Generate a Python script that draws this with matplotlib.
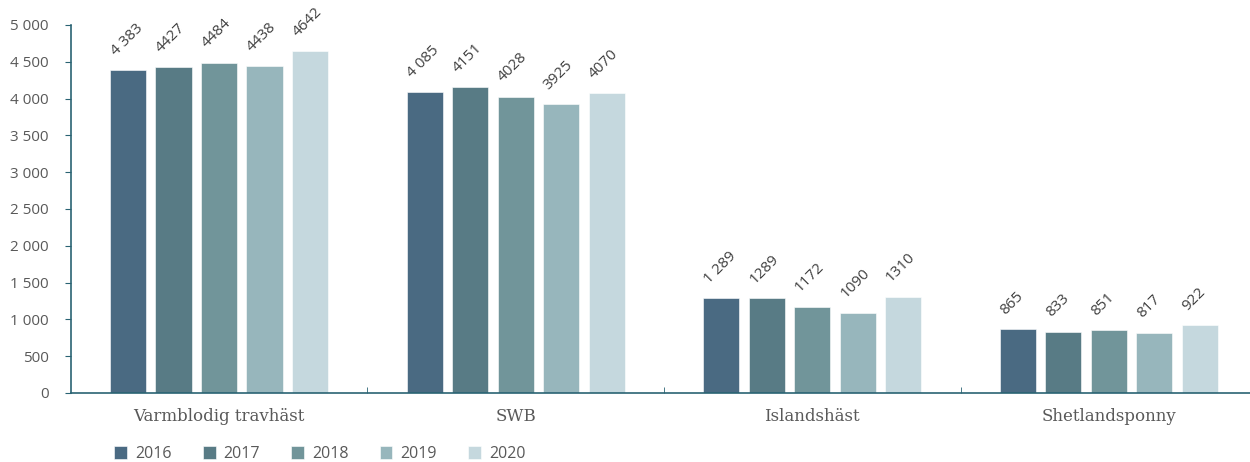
import numpy as np
import matplotlib
matplotlib.use("Agg")
import matplotlib.pyplot as plt

# data
breeds = ["Varmblodig travhäst", "SWB", "Islandshäst", "Shetlandsponny"]
years = ["2016", "2017", "2018", "2019", "2020"]
v2016 = [4383, 4085, 1289, 865]
v2017 = [4427, 4151, 1289, 833]
v2018 = [4484, 4028, 1172, 851]
v2019 = [4438, 3925, 1090, 817]
v2020 = [4642, 4070, 1310, 922]
# the labels in the source are not formatted consistently
labels2016 = ["4 383", "4 085", "1 289", "865"]
labels2017 = ["4427", "4151", "1289", "833"]
labels2018 = ["4484", "4028", "1172", "851"]
labels2019 = ["4438", "3925", "1090", "817"]
labels2020 = ["4642", "4070", "1310", "922"]

series = [v2016, v2017, v2018, v2019, v2020]
series_labels = [labels2016, labels2017, labels2018, labels2019, labels2020]
colors = ["#4a6a82", "#587b85", "#71959a", "#97b6bc", "#c5d8de"]

axis_col = "#2a6373"
text_col = "#595959"

fig = plt.figure(figsize=(12.5, 4.62), dpi=100)
ax = fig.add_axes([70.7 / 1250, 69 / 462, 1186.4 / 1250, 368 / 462])

x = np.arange(len(breeds))
step = 0.1534
width = 0.1214
for i, (vals, labs) in enumerate(zip(series, series_labels)):
    xs = x + (i - 2) * step
    ax.bar(xs, vals, width, color=colors[i], edgecolor="white", linewidth=0.4,
           label=years[i])
    for xi, v, lab in zip(xs, vals, labs):
        ax.annotate(lab, (xi, v), xytext=(-9, 10.5), textcoords="offset points",
                    rotation=45, rotation_mode="anchor", ha="left", va="baseline",
                    fontsize=11, color="#404040", family="Open Sans")

ax.set_xlim(-0.5, 3.5)
ax.set_ylim(0, 5000)
ax.set_yticks(np.arange(0, 5001, 500))
ax.set_yticklabels([f"{t:,}".replace(",", " ") for t in range(0, 5001, 500)])

ax.set_xticks(x)
ax.set_xticklabels(breeds, family="DejaVu Serif", fontsize=12, color=text_col)
ax.set_xticks([0.5, 1.5, 2.5], minor=True)
ax.tick_params(axis="x", which="major", length=0, pad=11)
ax.tick_params(axis="x", which="minor", direction="in", length=4, color=axis_col)
ax.tick_params(axis="y", length=4, color=axis_col, labelsize=11, labelcolor=text_col,
               pad=12)
for lab in ax.get_yticklabels():
    lab.set_family("Open Sans")

for s in ["top", "right"]:
    ax.spines[s].set_visible(False)
for s in ["left", "bottom"]:
    ax.spines[s].set_color(axis_col)
    ax.spines[s].set_linewidth(1.2)

leg = fig.legend(loc="center left", bbox_to_anchor=(100 / 1250, 1 - 454 / 462),
                 ncol=5, frameon=False, handlelength=0.8, handleheight=0.8,
                 handletextpad=0.5, columnspacing=1.95,
                 prop={"family": "Open Sans", "size": 11.5})
for t in leg.get_texts():
    t.set_color(text_col)

fig.savefig("out.png", dpi=100)
